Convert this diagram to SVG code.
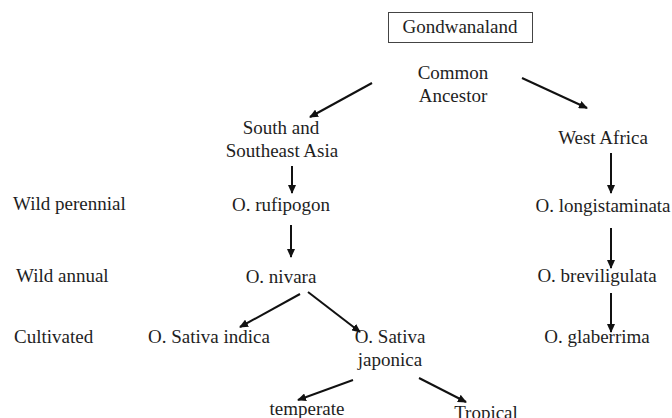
<svg xmlns="http://www.w3.org/2000/svg" width="672" height="418" viewBox="0 0 672 418">
<style>
text { font-family: "Liberation Serif", "Times New Roman", serif; font-size: 19px; fill: #1e1e1e; }
.c { text-anchor: middle; }
.conn line { stroke: #111; stroke-width: 2; marker-end: url(#ah); }
</style>
<defs>
<marker id="ah" markerUnits="userSpaceOnUse" markerWidth="9" markerHeight="8" refX="8" refY="4" orient="auto">
<path d="M0,0 L9,4 L0,8 z" fill="#111"/>
</marker>
</defs>
<rect width="672" height="418" fill="#ffffff"/>
<g id="gondwanaland">
<rect x="388.5" y="12.5" width="144" height="30" fill="none" stroke="#444" stroke-width="1"/>
<text class="c" x="460" y="33">Gondwanaland</text>
</g>
<g id="common-ancestor">
<text class="c" x="453" y="79">Common</text>
<text class="c" x="453" y="102">Ancestor</text>
</g>
<g id="south-asia">
<text class="c" x="281" y="134">South and</text>
<text class="c" x="282" y="157">Southeast Asia</text>
</g>
<g id="west-africa"><text class="c" x="603" y="144">West Africa</text></g>
<g id="label-wild-perennial"><text x="13" y="210">Wild perennial</text></g>
<g id="label-wild-annual"><text x="16" y="282">Wild annual</text></g>
<g id="label-cultivated"><text x="14" y="343">Cultivated</text></g>
<g id="rufipogon"><text class="c" x="281" y="211">O. rufipogon</text></g>
<g id="nivara"><text class="c" x="281" y="283">O. nivara</text></g>
<g id="indica"><text class="c" x="209" y="343">O. Sativa indica</text></g>
<g id="japonica">
<text class="c" x="390" y="343">O. Sativa</text>
<text class="c" x="390" y="366">japonica</text>
</g>
<g id="temperate"><text class="c" x="307" y="415">temperate</text></g>
<g id="tropical"><text class="c" x="486" y="419">Tropical</text></g>
<g id="longistaminata"><text class="c" x="603" y="212">O. longistaminata</text></g>
<g id="breviligulata"><text class="c" x="597" y="282">O. breviligulata</text></g>
<g id="glaberrima"><text class="c" x="597" y="343">O. glaberrima</text></g>
<g id="connectors" class="conn">
<line x1="372" y1="83" x2="310" y2="117"/>
<line x1="522" y1="78" x2="587" y2="108"/>
<line x1="292" y1="166" x2="292" y2="193"/>
<line x1="611" y1="153" x2="611" y2="193"/>
<line x1="291" y1="225" x2="291" y2="257"/>
<line x1="611" y1="228" x2="611" y2="268"/>
<line x1="611" y1="293" x2="611" y2="332"/>
<line x1="300" y1="294" x2="240" y2="327"/>
<line x1="308" y1="292" x2="360" y2="332"/>
<line x1="353" y1="380" x2="298" y2="400"/>
<line x1="419" y1="378" x2="466" y2="402"/>
</g>
</svg>
